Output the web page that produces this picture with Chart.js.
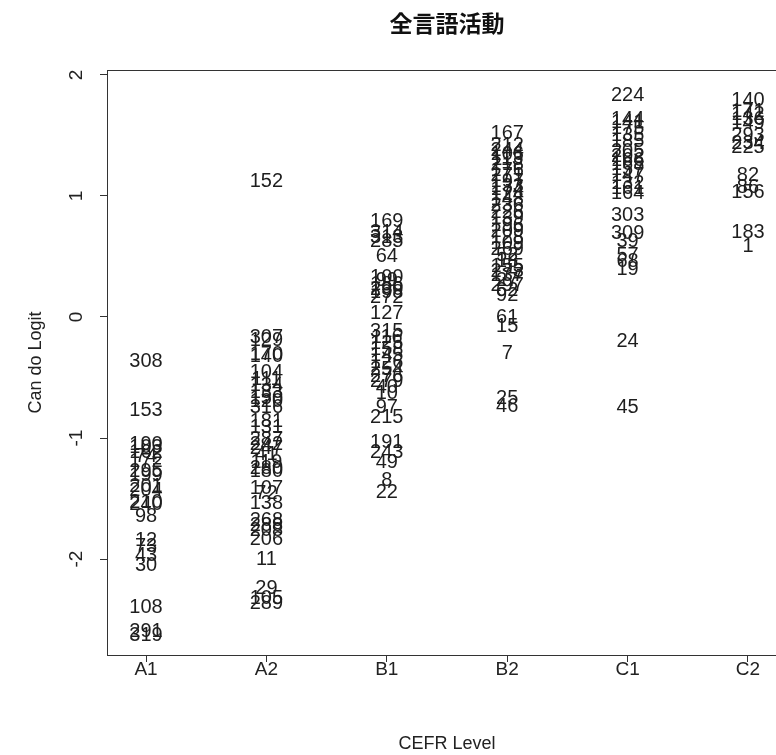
<!DOCTYPE html>
<html>
<head>
<meta charset="utf-8">
<script src="https://cdn.jsdelivr.net/npm/chart.js@4.4.1/dist/chart.umd.min.js"></script>
<style>
  html, body { margin: 0; padding: 0; background: #fff; overflow: hidden; }
  #wrap { width: 800px; height: 755px; }
</style>
</head>
<body>
<div id="wrap"><canvas id="cv" width="800" height="755"></canvas></div>
<script>
// CEFR levels on the x axis
const levels = ['A1', 'A2', 'B1', 'B2', 'C1', 'C2'];
const yTicks = [-2, -1, 0, 1, 2];

// learner ids and their Can-do logit, per level
const a1Ids    = [308, 153, 190, 103, 162, 74, 172, 295, 199, 201, 204, 210, 240, 98, 12, 73, 43, 30, 108, 291, 319];
const a1Logits = [-0.37, -0.77, -1.05, -1.08, -1.12, -1.15, -1.19, -1.28, -1.31, -1.40, -1.43, -1.53, -1.55, -1.65, -1.85, -1.90, -1.97, -2.05, -2.40, -2.60, -2.63];

const a2Ids    = [152, 307, 129, 170, 140, 104, 111, 134, 133, 150, 120, 316, 181, 131, 287, 242, 247, 41, 119, 280, 180, 107, 72, 138, 268, 288, 208, 206, 11, 29, 105, 289];
const a2Logits = [1.12, -0.17, -0.19, -0.31, -0.33, -0.46, -0.52, -0.57, -0.62, -0.67, -0.70, -0.75, -0.86, -0.91, -1.01, -1.05, -1.09, -1.14, -1.20, -1.25, -1.28, -1.42, -1.46, -1.54, -1.68, -1.72, -1.76, -1.84, -2.00, -2.24, -2.33, -2.37];

const b1Ids    = [169, 314, 313, 285, 64, 100, 99, 186, 230, 198, 272, 127, 315, 116, 125, 158, 145, 126, 254, 276, 279, 40, 10, 97, 215, 191, 243, 49, 8, 22];
const b1Logits = [0.79, 0.70, 0.66, 0.62, 0.50, 0.33, 0.30, 0.27, 0.23, 0.20, 0.16, 0.03, -0.12, -0.17, -0.22, -0.27, -0.32, -0.38, -0.43, -0.49, -0.53, -0.58, -0.63, -0.75, -0.83, -1.04, -1.12, -1.20, -1.35, -1.45];

const b2Ids    = [167, 212, 244, 106, 113, 218, 176, 271, 197, 133, 174, 124, 148, 236, 226, 139, 196, 209, 128, 109, 269, 52, 18, 155, 273, 137, 27, 297, 62, 92, 61, 15, 7, 25, 46];
const b2Logits = [1.52, 1.42, 1.38, 1.34, 1.30, 1.26, 1.21, 1.17, 1.12, 1.08, 1.05, 1.01, 0.97, 0.92, 0.86, 0.81, 0.76, 0.71, 0.66, 0.61, 0.56, 0.51, 0.46, 0.42, 0.38, 0.34, 0.30, 0.26, 0.22, 0.18, 0.00, -0.08, -0.30, -0.67, -0.74];

const c1Ids    = [224, 144, 141, 175, 135, 185, 205, 202, 166, 168, 157, 147, 132, 161, 164, 303, 309, 39, 57, 68, 19, 24, 45];
const c1Logits = [1.83, 1.63, 1.61, 1.56, 1.50, 1.45, 1.37, 1.33, 1.29, 1.26, 1.22, 1.17, 1.10, 1.06, 1.02, 0.84, 0.69, 0.62, 0.51, 0.46, 0.39, -0.20, -0.75];

const c2Ids    = [140, 171, 142, 136, 149, 293, 234, 225, 82, 86, 156, 183, 1];
const c2Logits = [1.79, 1.70, 1.67, 1.63, 1.60, 1.50, 1.43, 1.40, 1.17, 1.07, 1.03, 0.70, 0.58];

const idsByLevel = [a1Ids, a2Ids, b1Ids, b2Ids, c1Ids, c2Ids];
const logitsByLevel = [a1Logits, a2Logits, b1Logits, b2Logits, c1Logits, c2Logits];

const datasets = levels.map((lv, i) => ({
  label: lv,
  data: logitsByLevel[i].map(v => ({ x: i + 1, y: v })),
  ids: idsByLevel[i],
  pointRadius: 0,
  pointHoverRadius: 0
}));

const sans = '"Liberation Sans", Arial, sans-serif';

// draw the ids as text at each point, like R's text()
const idLabels = {
  id: 'idLabels',
  afterDatasetsDraw(chart) {
    const ctx = chart.ctx;
    ctx.save();
    ctx.font = '20px ' + sans;
    ctx.fillStyle = '#1e1e1e';
    ctx.textAlign = 'center';
    ctx.textBaseline = 'middle';
    chart.data.datasets.forEach((ds, di) => {
      const meta = chart.getDatasetMeta(di);
      meta.data.forEach((pt, j) => {
        ctx.fillText(String(ds.ids[j]), pt.x, pt.y);
      });
    });
    ctx.restore();
  }
};

// plot frame
const frame = {
  id: 'frame',
  afterDraw(chart) {
    const a = chart.chartArea;
    const ctx = chart.ctx;
    ctx.save();
    ctx.strokeStyle = '#333';
    ctx.lineWidth = 1;
    ctx.strokeRect(Math.round(a.left) + 0.5, Math.round(a.top) + 0.5, a.right - a.left, a.bottom - a.top);
    ctx.restore();
  }
};

new Chart(document.getElementById('cv'), {
  type: 'scatter',
  data: { datasets },
  options: {
    responsive: false,
    animation: false,
    events: [],
    layout: { padding: { top: 0, right: 13, left: 0, bottom: 0 } },
    plugins: {
      legend: { display: false },
      tooltip: { enabled: false },
      title: {
        display: true,
        text: '全言語活動',
        fullSize: false,
        color: '#111',
        font: { family: '"Noto Sans CJK JP", sans-serif', size: 23, weight: 'bold' },
        padding: { top: 9.2, bottom: 33.2 }
      }
    },
    scales: {
      x: {
        type: 'linear',
        min: 0.676,
        max: 6.324,
        afterBuildTicks: s => { s.ticks = levels.map((_, i) => ({ value: i + 1 })); },
        afterFit: s => { s.height = 100; },
        border: { display: false },
        grid: { drawOnChartArea: false, drawTicks: true, tickLength: 7, color: '#333' },
        ticks: {
          callback: v => levels[v - 1],
          color: '#222',
          padding: -4,
          maxRotation: 0,
          font: { family: sans, size: 19 }
        },
        title: {
          display: true,
          text: 'CEFR Level',
          color: '#222',
          padding: { top: -3, bottom: 0 },
          font: { family: sans, size: 18 }
        }
      },
      y: {
        type: 'linear',
        min: -2.793,
        max: 2.041,
        afterBuildTicks: s => { s.ticks = yTicks.map(v => ({ value: v })); },
        afterFit: s => { s.width = 107; },
        border: { display: false },
        grid: { drawOnChartArea: false, drawTicks: true, tickLength: 7, color: '#333' },
        ticks: {
          minRotation: 90,
          maxRotation: 90,
          crossAlign: 'center',
          padding: 15,
          color: '#222',
          font: { family: sans, size: 19 }
        },
        title: {
          display: true,
          text: 'Can do Logit',
          color: '#222',
          padding: { top: 25, bottom: 0 },
          font: { family: sans, size: 18 }
        }
      }
    }
  },
  plugins: [idLabels, frame]
});
</script>
</body>
</html>
